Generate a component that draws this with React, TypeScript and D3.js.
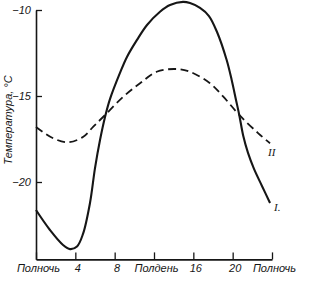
import { useEffect, useRef } from "react";
import * as d3 from "d3";

// curve I (solid) — hour, temperature °C
const solidHours = [0, 1.42, 2.75, 3.46, 4.17, 4.78, 5.49, 6.0, 6.51, 7.02, 7.53, 8.54, 9.25, 10.27, 11.29, 12.61, 13.63, 14.95, 15.66, 16.68, 17.59, 18.41, 19.39, 19.9, 20.34, 20.67, 21.08, 21.56, 22.17, 22.98, 23.8];
const solidTemps = [-21.63, -22.79, -23.66, -23.9, -23.75, -23.02, -21.22, -19.19, -17.56, -16.22, -15.17, -13.66, -12.73, -11.74, -10.87, -10.1, -9.71, -9.53, -9.6, -9.88, -10.35, -11.28, -12.91, -14.07, -15.23, -16.1, -17.33, -18.31, -19.24, -20.23, -21.22];

// curve II (dashed)
const dashHours = [0, 1.76, 3.28, 4.81, 5.83, 7.12, 8.88, 10.58, 12.27, 14.14, 15.66, 17.69, 19.05, 20.67, 22.61, 23.8];
const dashTemps = [-16.8, -17.46, -17.69, -17.37, -16.78, -16.05, -15.04, -14.26, -13.59, -13.43, -13.59, -14.26, -15.04, -16.1, -17.17, -17.75];

const xTicks = [0, 4, 8, 12, 16, 20, 24];
const xTickLabels = ["Полночь", "4", "8", "Полдень", "16", "20", "Полночь"];
const yTicks = [-10, -15, -20];

export default function App() {
  const ref = useRef<SVGSVGElement>(null);

  useEffect(() => {
    const svg = d3.select(ref.current);
    svg.selectAll("*").remove();

    const ink = "#161616";
    const font = "'Liberation Sans', Arial, sans-serif";

    const x = d3.scaleLinear().domain([0, 24]).range([36, 272]);
    const y = d3.scaleLinear().domain([-10, -24.5]).range([10, 259.4]);

    svg.append("rect").attr("width", 310).attr("height", 282).attr("fill", "#fff");

    const xAxis = d3.axisBottom(x)
      .tickValues(xTicks)
      .tickSizeInner(-7)
      .tickSizeOuter(0)
      .tickPadding(5)
      .tickFormat((d, i) => xTickLabels[i]);

    const gx = svg.append("g")
      .attr("transform", `translate(0,${y(-24.5)})`)
      .call(xAxis);

    const yAxis = d3.axisLeft(y)
      .tickValues(yTicks)
      .tickSizeInner(-6)
      .tickSizeOuter(0)
      .tickPadding(5)
      .tickFormat(d => "−" + Math.abs(d as number));

    const gy = svg.append("g")
      .attr("transform", `translate(${x(0)},0)`)
      .call(yAxis);

    [gx, gy].forEach(g => {
      g.select(".domain").attr("stroke", ink).attr("stroke-width", 1.6);
      g.selectAll(".tick line").attr("stroke", ink).attr("stroke-width", 1.3);
      g.selectAll(".tick text")
        .attr("fill", ink)
        .attr("font-family", font)
        .attr("font-style", "italic")
        .attr("font-size", 11);
    });
    gx.selectAll(".tick text").attr("dx", 2);

    svg.append("text")
      .attr("transform", `translate(12,120) rotate(-90)`)
      .attr("text-anchor", "middle")
      .attr("font-family", font)
      .attr("font-style", "italic")
      .attr("font-size", 11)
      .attr("fill", ink)
      .text("Температура, °C");

    const line = d3.line<[number, number]>()
      .x(d => x(d[0]))
      .y(d => y(d[1]))
      .curve(d3.curveCatmullRom.alpha(0.5));

    svg.append("path")
      .datum(d3.zip(dashHours, dashTemps) as [number, number][])
      .attr("d", line)
      .attr("fill", "none")
      .attr("stroke", ink)
      .attr("stroke-width", 1.8)
      .attr("stroke-dasharray", "8,4.5");

    svg.append("path")
      .datum(d3.zip(solidHours, solidTemps) as [number, number][])
      .attr("d", line)
      .attr("fill", "none")
      .attr("stroke", ink)
      .attr("stroke-width", 2.1);

    svg.append("text")
      .attr("x", 268).attr("y", 156)
      .attr("font-family", "'Liberation Serif', serif")
      .attr("font-style", "italic")
      .attr("font-size", 11)
      .attr("fill", ink)
      .text("II");

    svg.append("text")
      .attr("x", 274).attr("y", 211)
      .attr("font-family", "'Liberation Serif', serif")
      .attr("font-style", "italic")
      .attr("font-size", 11)
      .attr("fill", ink)
      .text("I.");
  }, []);

  return (
    <svg
      ref={ref}
      width={310}
      height={282}
      style={{ position: "absolute", left: 0, top: 0 }}
    />
  );
}
